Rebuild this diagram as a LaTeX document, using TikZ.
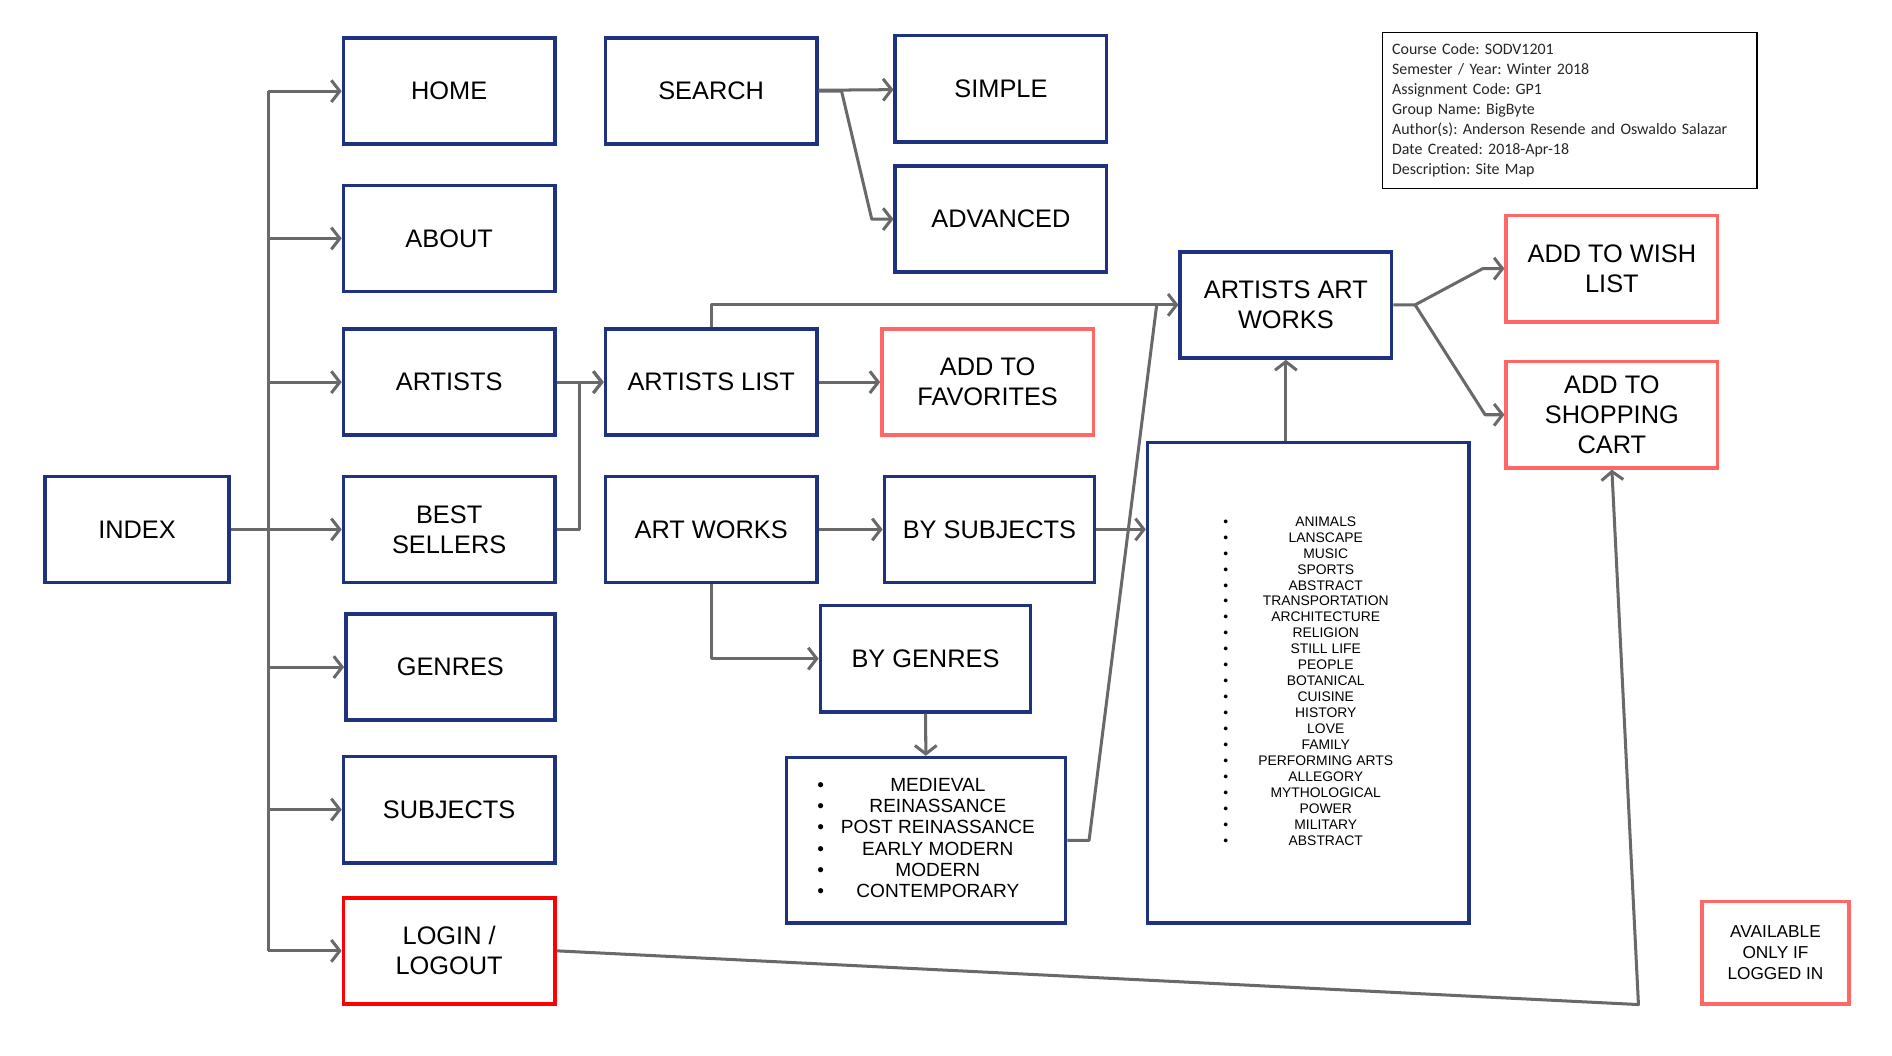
\documentclass[tikz,border=0pt]{standalone}
\usepackage{fontspec}
\setmainfont{Liberation Sans}
\newfontfamily\calibri{Carlito}
\usepackage{tikz}
\usetikzlibrary{arrows.meta,positioning}
\definecolor{navy_blue}{RGB}{31,50,128}
\definecolor{salmon_red}{RGB}{255,102,102}
\definecolor{line_gray}{RGB}{105,105,105}
\frenchspacing

\begin{document}
\begin{tikzpicture}[x=1pt,y=-1pt,
      pagebox/.style={
         rectangle,
         draw=navy_blue,
         line width=3pt,
         fill=white,
         minimum width=175pt,
         minimum height=88pt,
         inner sep=2pt,
         align=center,
         font=\fontsize{21}{25}\selectfont},
      page_login/.style={
         pagebox,
         draw=red},
      page_member/.style={
         pagebox,
         draw=salmon_red},
      listbox/.style={
         rectangle,
         draw=navy_blue,
         line width=3pt,
         fill=white,
         inner sep=0pt},
      infobox/.style={
         rectangle,
         draw=black,
         line width=1.2pt,
         minimum width=310pt,
         minimum height=129pt,
         text width=294pt,
         align=left,
         text=black!85,
         font=\calibri\fontsize{13.2}{16.6}\selectfont},
      myline/.style={
        line_gray,
        line width=2.5pt,
        line join=round},
      myarrow/.style={
        myline,
        -{Straight Barb[length=7pt,width=18pt]}},
      ]
      \fill[white] (0,0) rectangle (1567,874.6);

      % index and main menu
      \node[pagebox,minimum width=152pt] (index) at (113.5,438.5) {INDEX};
      \coordinate (trunk) at (222,0);

      \node[pagebox] (home) at (372,75.5) {HOME};
      \node[pagebox] (about) at (372,197.5) {ABOUT};
      \node[pagebox] (artists) at (372,316.5) {ARTISTS};
      \node[pagebox] (best) at (372,438.5) {BEST\\SELLERS};
      \node[pagebox,minimum width=173pt] (genres) at (373,552.5) {GENRES};
      \node[pagebox] (subjects) at (372,670.5) {SUBJECTS};
      \node[page_login] (login) at (372,787.5) {LOGIN /\\LOGOUT};

      % second level
      \node[pagebox] (search) at (589,75.5) {SEARCH};
      \node[pagebox] (simple) at (829,73.5) {SIMPLE};
      \node[pagebox] (adv) at (829,181.5) {ADVANCED};
      \node[pagebox] (alist) at (589,316.5) {ARTISTS LIST};
      \node[page_member] (fav) at (818,316.5) {ADD TO\\FAVORITES};
      \node[pagebox] (artw) at (589,438.5) {ART WORKS};
      \node[pagebox,minimum width=174pt] (bysub) at (819.5,438.5) {BY SUBJECTS};
      \node[pagebox,minimum width=174pt] (bygen) at (766.5,545.5) {BY GENRES};

      % genres list
      \node[listbox,minimum width=231pt,minimum height=137pt] (glist) at (767,696) {%
        \fontsize{15.8}{17.6}\selectfont
        \begin{tabular}{@{}c@{\hspace{14pt}}c@{}}
          \textbullet & MEDIEVAL\\
          \textbullet & REINASSANCE\\
          \textbullet & POST REINASSANCE\\
          \textbullet & EARLY MODERN\\
          \textbullet & MODERN\\
          \textbullet & CONTEMPORARY
        \end{tabular}};

      % subjects list
      \node[listbox,minimum width=266pt,minimum height=398pt] (slist) at (1083.5,565.5) {%
        \fontsize{11.5}{13.25}\selectfont
        \begin{tabular}{@{}c@{\hspace{25pt}}c@{}}
          \textbullet & ANIMALS\\
          \textbullet & LANSCAPE\\
          \textbullet & MUSIC\\
          \textbullet & SPORTS\\
          \textbullet & ABSTRACT\\
          \textbullet & TRANSPORTATION\\
          \textbullet & ARCHITECTURE\\
          \textbullet & RELIGION\\
          \textbullet & STILL LIFE\\
          \textbullet & PEOPLE\\
          \textbullet & BOTANICAL\\
          \textbullet & CUISINE\\
          \textbullet & HISTORY\\
          \textbullet & LOVE\\
          \textbullet & FAMILY\\
          \textbullet & PERFORMING ARTS\\
          \textbullet & ALLEGORY\\
          \textbullet & MYTHOLOGICAL\\
          \textbullet & POWER\\
          \textbullet & MILITARY\\
          \textbullet & ABSTRACT
        \end{tabular}\hspace{17pt}};

      % artist works and member actions
      \node[pagebox] (aaw) at (1065,252.5) {ARTISTS ART\\WORKS};
      \node[page_member] (wish) at (1335,222.5) {ADD TO WISH\\LIST};
      \node[page_member] (cart) at (1335,343.5) {ADD TO\\SHOPPING\\CART};
      \node[page_member,minimum width=122pt,minimum height=85pt,
            font=\fontsize{14.3}{17}\selectfont] (avail) at (1470.5,789) {AVAILABLE\\ONLY IF\\LOGGED IN};

      % info
      \node[infobox] (info) at (1300,91.5) {%
        Course Code: SODV1201\\
        Semester / Year: Winter 2018\\
        Assignment Code: GP1\\
        Group Name: BigByte\\
        Author(s): Anderson Resende and Oswaldo Salazar\\
        Date Created: 2018-Apr-18\\
        Description: Site Map};

    % main menu trunk
    \draw[myline] (trunk |- home.west) -- (trunk |- login.west);
    \foreach \n in {home,about,artists,genres,subjects,login}
      \draw[myarrow] (trunk |- \n.west) -- (\n.west);
    \draw[myarrow] (index) -- (best);

    \foreach \i/\j in {% start node/end node
      artists/alist,
      alist/fav,
      search/simple,
      artw/bysub,
      bygen/glist}
      \draw[myarrow] (\i) -- (\j);

    \draw[myarrow] (best.east) -- ++(19,0) |- (alist.west);
    \draw[myarrow] (search.east) -- ++(19,0) -- ([xshift=-18pt]adv.west) -- (adv.west);
    \draw[myarrow] (alist.north) |- (aaw.west);
    \draw[myarrow] (artw.south) |- (bygen.west);
    \draw[myline] (glist.east) -- ++(18,0) -- ([xshift=-18pt]aaw.west);
    \draw[myarrow] (bysub.east) -- (bysub.east -| slist.west);
    \draw[myarrow] (aaw.south |- slist.north) -- (aaw.south);
    \draw[myarrow] (aaw.east) -- ++(18,0) coordinate (fork)
        -- ([xshift=-18pt]wish.west) -- (wish.west);
    \draw[myarrow] (fork) -- ([xshift=-16pt]cart.west) -- (cart.west);

    % login needed
    \coordinate (turn) at (1357,832);
    \draw[myarrow] (login.east) -- (turn) -- (cart.south);
    \end{tikzpicture}
\end{document}
